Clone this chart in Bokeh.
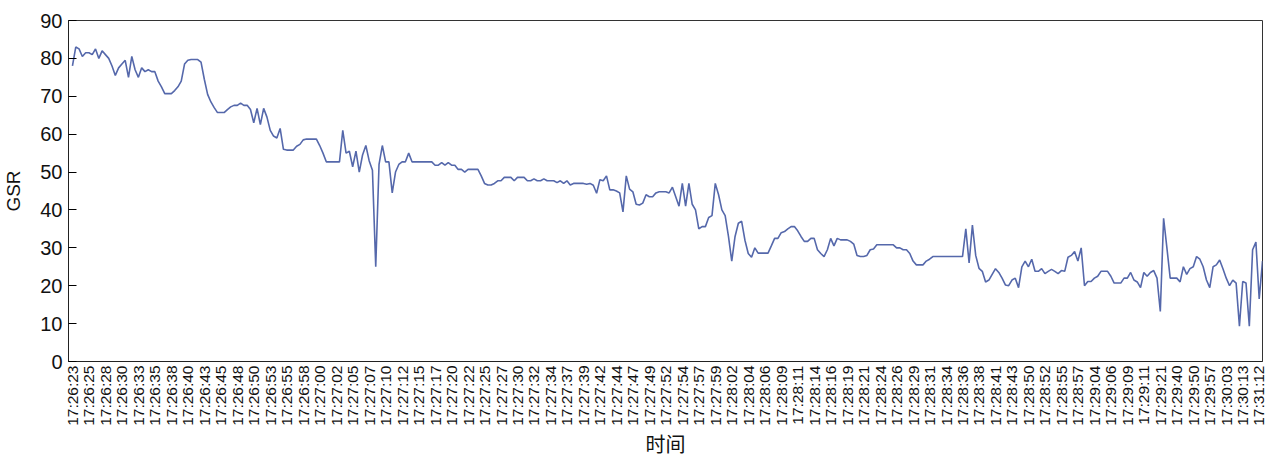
import math
from bokeh.plotting import figure
from bokeh.models import FixedTicker, Range1d
from bokeh.embed import file_html
from bokeh.resources import INLINE

# x-axis tick labels (one every 5 samples)
time_labels = [
    "17:26:23", "17:26:25", "17:26:28", "17:26:30", "17:26:33", "17:26:35", "17:26:38", "17:26:40",
    "17:26:43", "17:26:45", "17:26:48", "17:26:50", "17:26:53", "17:26:55", "17:26:58",
    "17:27:00", "17:27:02", "17:27:05", "17:27:07", "17:27:10", "17:27:12", "17:27:15", "17:27:17",
    "17:27:20", "17:27:22", "17:27:25", "17:27:27", "17:27:30", "17:27:32", "17:27:34", "17:27:37",
    "17:27:39", "17:27:42", "17:27:44", "17:27:47", "17:27:49", "17:27:52", "17:27:54", "17:27:57",
    "17:27:59", "17:28:02", "17:28:04", "17:28:06", "17:28:09", "17:28:11", "17:28:14", "17:28:16",
    "17:28:19", "17:28:21", "17:28:24", "17:28:26", "17:28:29", "17:28:31", "17:28:34", "17:28:36",
    "17:28:38", "17:28:41", "17:28:43", "17:28:50", "17:28:52", "17:28:55", "17:28:57",
    "17:29:04", "17:29:06", "17:29:09", "17:29:11", "17:29:21", "17:29:40", "17:29:50", "17:29:57",
    "17:30:03", "17:30:13", "17:31:12",
]
label_step = 5

# GSR samples
gsr = [
    78, 83, 82.5, 80.5, 81.5, 81.5, 81, 82.5, 80, 82,
    81, 80, 78, 75.5, 77.5, 78.5, 79.5, 75, 80.5, 77,
    75, 77.5, 76.5, 77, 76.5, 76.5, 74, 72.5, 70.7, 70.7,
    70.7, 71.5, 72.5, 74, 78.5, 79.5, 79.7, 79.7, 79.7, 79,
    74.5, 70.5, 68.5, 67, 65.7, 65.7, 65.7, 66.5, 67.2, 67.6,
    67.6, 68.2, 67.6, 67.6, 66.5, 63, 66.8, 62.5, 66.8, 64.5,
    61, 59.5, 59, 61.5, 56, 55.8, 55.8, 55.8, 56.8, 57.3,
    58.5, 58.7, 58.7, 58.7, 58.7, 57, 55, 52.7, 52.7, 52.7,
    52.7, 52.7, 61, 55, 55.5, 51.4, 55.5, 50, 54.5, 57,
    53, 50.5, 25, 52, 57, 52.7, 52.7, 44.5, 50, 52,
    52.7, 52.7, 55, 52.7, 52.7, 52.7, 52.7, 52.7, 52.7, 52.7,
    51.8, 51.8, 52.5, 51.8, 52.5, 51.8, 51.8, 50.7, 50.7, 50,
    50.7, 50.7, 50.7, 50.7, 49, 47, 46.6, 46.6, 47, 47.7,
    47.7, 48.6, 48.6, 48.6, 47.7, 48.6, 48.6, 48.6, 47.7, 47.7,
    48.2, 47.7, 47.7, 48.2, 47.7, 47.7, 47.7, 47.2, 47.7, 47,
    47.7, 46.6, 47, 47, 47, 47, 46.8, 47, 46.5, 44.4,
    48, 47.7, 49, 45.3, 45.3, 45, 44.5, 39.5, 49, 45.5,
    44.8, 41.5, 41.3, 41.8, 44, 43.5, 43.5, 44.5, 44.8, 44.8,
    44.8, 44.5, 46, 43.5, 41, 47, 41, 47, 41.5, 40,
    35, 35.6, 35.6, 38, 38.5, 47, 44, 40, 38.5, 33,
    26.5, 33, 36.5, 37, 32, 28.5, 27.5, 30, 28.6, 28.6,
    28.6, 28.6, 30.5, 32.5, 32.5, 34, 34.3, 35, 35.6, 35.6,
    34.5, 33, 31.7, 31.7, 32.5, 32.5, 29.5, 28.5, 27.7, 29.5,
    32.5, 30.5, 32.5, 32.1, 32.1, 32.1, 31.7, 31, 28, 27.7,
    27.7, 28, 29.5, 29.7, 30.8, 30.8, 30.8, 30.8, 30.8, 30.8,
    30, 30, 29.5, 29.5, 28.5, 26.5, 25.5, 25.5, 25.5, 26.5,
    27, 27.7, 27.7, 27.7, 27.7, 27.7, 27.7, 27.7, 27.7, 27.7,
    27.7, 35, 26, 36, 28, 24.6, 23.8, 21, 21.5, 23,
    24.5, 23.5, 22, 20.2, 20, 21.5, 22, 19.5, 25, 26.5,
    25, 27, 23.8, 23.8, 24.5, 23.2, 23.8, 24.3, 23.8, 23.2,
    24, 23.8, 27.5, 28, 29, 26.5, 30, 20, 21.1, 21.1,
    22, 22.5, 23.8, 23.8, 23.8, 22.5, 20.7, 20.7, 20.7, 22,
    22, 23.5, 21.5, 21, 19.5, 23.5, 22.5, 23.5, 24, 22,
    13.2, 37.8, 30, 22, 22, 22, 21, 25, 23, 24.5,
    25, 27.7, 27, 25, 21.5, 19.5, 25, 25.5, 26.8, 24.5,
    22, 20, 21.5, 20.7, 9.3, 21.1, 20.7, 9.3, 29.5, 31.5,
    16.5, 26.5, 21,
]
y_ticks = [0, 10, 20, 30, 40, 50, 60, 70, 80, 90]

xs = list(range(len(gsr)))
tick_pos = [i * label_step for i in range(len(time_labels))]

p = figure(width=1266, height=460, output_backend="svg", toolbar_location=None,
           x_range=Range1d(-1.2, 361), y_range=Range1d(0, 90),
           min_border_top=20, min_border_right=4, min_border_left=0, min_border_bottom=0)
p.line(xs, gsr, line_color="#5568ab", line_width=1.6)

p.xgrid.visible = False
p.ygrid.visible = False
p.outline_line_color = "#333333"
p.outline_line_width = 1
p.background_fill_color = "white"
p.border_fill_color = "white"

p.yaxis.ticker = FixedTicker(ticks=y_ticks)
p.yaxis.major_tick_in = 8
p.yaxis.major_tick_out = 0
p.yaxis.minor_tick_line_color = None
p.yaxis.major_label_text_font = "Liberation Sans"
p.yaxis.major_label_text_font_size = "20px"
p.yaxis.major_label_text_color = "#111111"
p.yaxis.major_label_standoff = 6
p.yaxis.axis_label = "GSR"
p.yaxis.axis_label_text_font = "Liberation Sans"
p.yaxis.axis_label_text_font_size = "19px"
p.yaxis.axis_label_text_font_style = "normal"
p.yaxis.axis_label_text_color = "#111111"
p.yaxis.axis_label_standoff = 13
p.yaxis.axis_line_color = "#222222"

p.xaxis.ticker = FixedTicker(ticks=tick_pos)
p.xaxis.major_label_overrides = {pos: lbl for pos, lbl in zip(tick_pos, time_labels)}
p.xaxis.major_label_orientation = math.pi / 2
p.xaxis.major_tick_in = 0
p.xaxis.major_tick_out = 0
p.xaxis.minor_tick_line_color = None
p.xaxis.major_label_text_font = "Liberation Sans"
p.xaxis.major_label_text_font_size = "15.5px"
p.xaxis.major_label_text_color = "#111111"
p.xaxis.major_label_standoff = 4
p.xaxis.axis_label = "时间"
p.xaxis.axis_label_text_font = "Noto Sans CJK SC"
p.xaxis.axis_label_text_font_size = "20px"
p.xaxis.axis_label_text_font_style = "normal"
p.xaxis.axis_label_text_color = "#111111"
p.xaxis.axis_label_standoff = 0
p.xaxis.axis_line_color = "#222222"

open("out.html", "w").write(file_html(p, INLINE))
